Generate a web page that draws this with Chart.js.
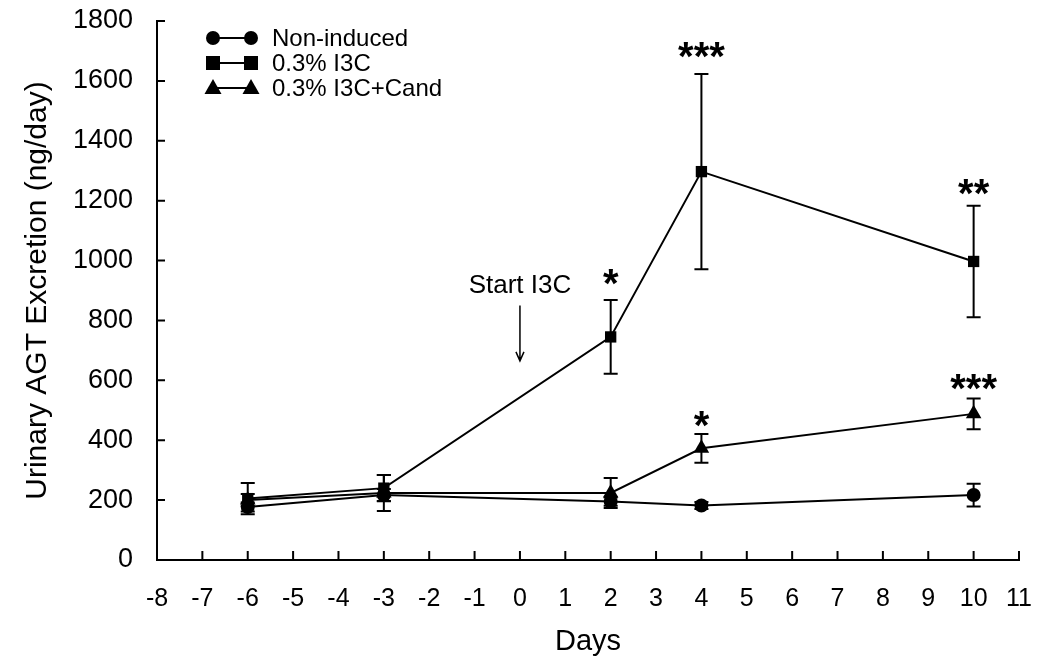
<!DOCTYPE html>
<html>
<head>
<meta charset="utf-8">
<script src="https://cdn.jsdelivr.net/npm/chart.js@4.4.1/dist/chart.umd.min.js"></script>
<style>
  html, body { margin: 0; padding: 0; background: #fff; }
  #wrap { width: 1043px; height: 667px; position: relative; }
</style>
</head>
<body>
<div id="wrap"><canvas id="agtChart"></canvas></div>
<script>
// Data
const days = [-6, -3, 2, 4, 10];
const nonInduced = [177, 217, 195, 182, 217];
const nonInducedErr = [15, 20, 14, 12, 38];
const i3c = [205, 240, 745, 1297, 997];
const i3cErr = [52, 44, 123, 326, 186];
const i3cCand = [200, 224, 224, 373, 488];
const i3cCandErr = [20, 60, 50, 48, 51];

const xTicks = [-8, -7, -6, -5, -4, -3, -2, -1, 0, 1, 2, 3, 4, 5, 6, 7, 8, 9, 10, 11];
const yTicks = [0, 200, 400, 600, 800, 1000, 1200, 1400, 1600, 1800];

// significance marks (x = day, y = value where the stars sit)
const starDays = [2, 4, 10, 4, 10];
const starValues = [950, 1705, 1250, 475, 598];
const starLabels = ['*', '***', '**', '*', '***'];

const seriesNames = ['Non-induced', '0.3% I3C', '0.3% I3C+Cand'];
const seriesShapes = ['circle', 'rect', 'triangle'];

const FONT = '"Liberation Sans", Arial, sans-serif';

function toPoints(ys) {
    return days.map((d, i) => ({ x: d, y: ys[i] }));
}

function drawMarker(ctx, shape, x, y) {
    ctx.beginPath();
    if (shape === 'circle') {
        ctx.arc(x, y, 7, 0, Math.PI * 2);
    } else if (shape === 'rect') {
        ctx.rect(x - 7, y - 7, 14, 14);
    } else {
        ctx.moveTo(x, y - 9);
        ctx.lineTo(x + 8.5, y + 6);
        ctx.lineTo(x - 8.5, y + 6);
        ctx.closePath();
    }
    ctx.fill();
}

// error bars drawn under the markers
const errorBars = {
    id: 'errorBars',
    beforeDatasetsDraw(chart) {
        const ctx = chart.ctx;
        const yScale = chart.scales.y;
        ctx.save();
        ctx.strokeStyle = '#000';
        ctx.lineWidth = 2;
        chart.data.datasets.forEach((ds, i) => {
            const meta = chart.getDatasetMeta(i);
            meta.data.forEach((pt, j) => {
                const v = ds.data[j].y;
                const e = ds.errors[j];
                const top = yScale.getPixelForValue(v + e);
                const bot = yScale.getPixelForValue(v - e);
                ctx.beginPath();
                ctx.moveTo(pt.x, top);
                ctx.lineTo(pt.x, bot);
                ctx.moveTo(pt.x - 7, top);
                ctx.lineTo(pt.x + 7, top);
                ctx.moveTo(pt.x - 7, bot);
                ctx.lineTo(pt.x + 7, bot);
                ctx.stroke();
            });
        });
        ctx.restore();
    }
};

// inward ticks, legend, stars and the "Start I3C" arrow
const extras = {
    id: 'extras',
    afterDraw(chart) {
        const ctx = chart.ctx;
        const xs = chart.scales.x;
        const ys = chart.scales.y;
        const area = chart.chartArea;
        ctx.save();
        ctx.strokeStyle = '#000';
        ctx.fillStyle = '#000';
        ctx.lineWidth = 2;

        ctx.beginPath();
        xTicks.forEach(t => {
            const px = xs.getPixelForValue(t);
            ctx.moveTo(px, area.bottom);
            ctx.lineTo(px, area.bottom - 9);
        });
        yTicks.forEach(t => {
            const py = ys.getPixelForValue(t);
            ctx.moveTo(area.left, py);
            ctx.lineTo(area.left + 8, py);
        });
        ctx.stroke();

        // legend
        ctx.font = '24px ' + FONT;
        ctx.textBaseline = 'middle';
        ctx.textAlign = 'left';
        seriesNames.forEach((name, i) => {
            const ly = 38 + i * 25;
            ctx.beginPath();
            ctx.moveTo(213, ly);
            ctx.lineTo(251, ly);
            ctx.stroke();
            drawMarker(ctx, seriesShapes[i], 213, ly);
            drawMarker(ctx, seriesShapes[i], 251, ly);
            ctx.fillText(name, 272, ly + 1);
        });

        // stars
        ctx.font = 'bold 40px ' + FONT;
        ctx.textAlign = 'center';
        starDays.forEach((d, i) => {
            ctx.fillText(starLabels[i], xs.getPixelForValue(d), ys.getPixelForValue(starValues[i]) + 10);
        });

        // start arrow
        const ax = xs.getPixelForValue(0);
        ctx.font = '26px ' + FONT;
        ctx.fillText('Start I3C', ax, ys.getPixelForValue(915));
        const a0 = ys.getPixelForValue(850);
        const a1 = ys.getPixelForValue(665);
        ctx.lineWidth = 1.5;
        ctx.beginPath();
        ctx.moveTo(ax, a0);
        ctx.lineTo(ax, a1);
        ctx.moveTo(ax - 4, a1 - 9);
        ctx.lineTo(ax, a1);
        ctx.lineTo(ax + 4, a1 - 9);
        ctx.stroke();
        ctx.restore();
    }
};

const makeSet = (label, ys, errs, style) => ({
    label: label,
    data: toPoints(ys),
    errors: errs,
    borderColor: '#000',
    backgroundColor: '#000',
    borderWidth: 2,
    pointStyle: style,
    pointRadius: style === 'rect' ? 8 : (style === 'triangle' ? 9 : 7),
    pointBorderWidth: 0,
    pointBackgroundColor: '#000',
    tension: 0
});

new Chart(document.getElementById('agtChart'), {
    type: 'line',
    data: {
        datasets: [
            makeSet(seriesNames[0], nonInduced, nonInducedErr, 'circle'),
            makeSet(seriesNames[1], i3c, i3cErr, 'rect'),
            makeSet(seriesNames[2], i3cCand, i3cCandErr, 'triangle')
        ]
    },
    options: {
        responsive: true,
        maintainAspectRatio: false,
        animation: false,
        layout: { padding: { left: 0, right: 24, top: 21, bottom: 0 } },
        plugins: {
            legend: { display: false },
            tooltip: { enabled: false }
        },
        scales: {
            x: {
                type: 'linear',
                min: -8,
                max: 11,
                afterFit: s => {
                    s.height = 107;
                    s.paddingLeft = 0;
                    s.paddingRight = 0;
                },
                afterBuildTicks: s => { s.ticks = xTicks.map(v => ({ value: v })); },
                grid: { display: false },
                border: { display: true, color: '#000', width: 2 },
                ticks: {
                    padding: 16,
                    color: '#000',
                    font: { family: FONT, size: 25 },
                    maxRotation: 0,
                    autoSkip: false,
                    callback: v => String(v)
                },
                title: {
                    display: true,
                    text: 'Days',
                    color: '#000',
                    font: { family: FONT, size: 29 },
                    padding: { top: 0, bottom: 8 }
                }
            },
            y: {
                min: 0,
                max: 1800,
                afterFit: s => {
                    s.width = 157;
                    s.paddingTop = 0;
                    s.paddingBottom = 0;
                },
                afterBuildTicks: s => { s.ticks = yTicks.map(v => ({ value: v })); },
                grid: { display: false },
                border: { display: true, color: '#000', width: 2 },
                ticks: {
                    padding: 16,
                    color: '#000',
                    font: { family: FONT, size: 27 },
                    callback: v => String(v)
                },
                title: {
                    display: true,
                    text: 'Urinary AGT Excretion (ng/day)',
                    color: '#000',
                    font: { family: FONT, size: 30 },
                    padding: { top: 20, bottom: 0 }
                }
            }
        }
    },
    plugins: [errorBars, extras]
});
</script>
</body>
</html>
